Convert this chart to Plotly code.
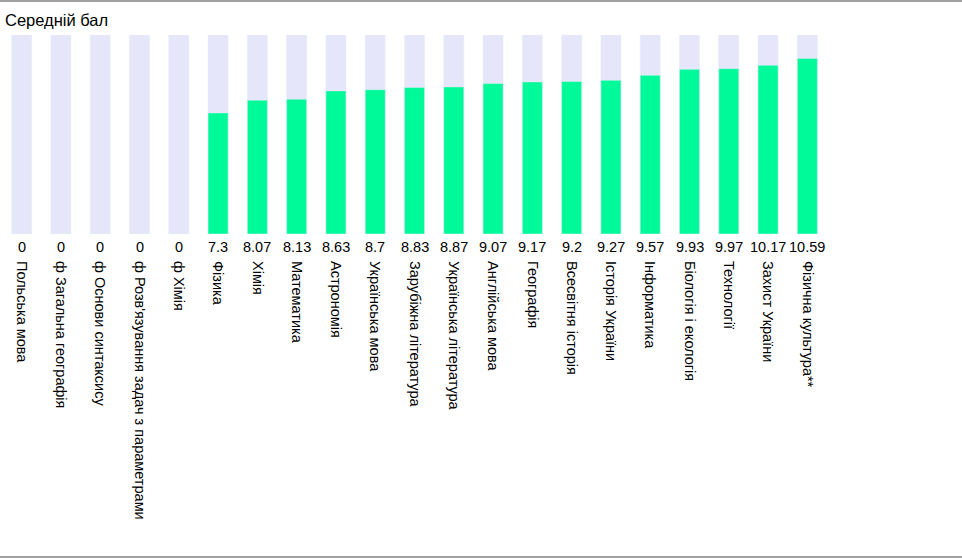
import plotly.graph_objects as go

categories = [
    "Польська мова", "ф Загальна географія", "ф Основи синтаксису",
    "ф Розв'язування задач з параметрами", "ф Хімія", "Фізика", "Хімія",
    "Математика", "Астрономія", "Українська мова", "Зарубіжна література",
    "Українська література", "Англійська мова", "Географія", "Всесвітня історія",
    "Історія України", "Інформатика", "Біологія і екологія", "Технології",
    "Захист України", "Фізична культура**",
]
values = [0, 0, 0, 0, 0, 7.3, 8.07, 8.13, 8.63, 8.7, 8.83, 8.87, 9.07, 9.17,
          9.2, 9.27, 9.57, 9.93, 9.97, 10.17, 10.59]
max_score = 12
title_text = "Середній бал"

W, H = 962, 560
slot = 39.3
left = 2
plot_w = slot * len(categories)
top, bottom = 35, 234
fs = 14.5

fig = go.Figure()
fig.add_trace(go.Bar(x=categories, y=[max_score] * len(categories),
                     marker_color="#E6E6FA", width=0.51, hoverinfo="skip"))
fig.add_trace(go.Bar(x=categories, y=values, marker_color="#00FA9A",
                     width=0.51))

for c, v in zip(categories, values):
    fig.add_annotation(x=c, y=0, text=f"{v:g}", showarrow=False,
                       yanchor="top", yshift=-3,
                       font=dict(family="Liberation Sans, Arial", size=fs, color="#000"))

fig.update_layout(
    width=W, height=H, autosize=False,
    margin=dict(l=left, r=W - left - plot_w, t=top, b=H - bottom, pad=0),
    barmode="overlay", showlegend=False,
    plot_bgcolor="white", paper_bgcolor="white",
    font=dict(family="Liberation Sans, Arial", size=fs, color="#000"),
    title=dict(text=title_text, x=5 / W, xanchor="left", y=1 - 20 / H,
               yanchor="middle", xref="container", yref="container",
               font=dict(size=16.5, color="#000")),
    xaxis=dict(type="category", tickangle=90, showgrid=False, zeroline=False,
               showline=False, ticks="", ticklabelstandoff=26,
               tickfont=dict(size=fs, color="#000"), range=[-0.5, len(categories) - 0.5]),
    yaxis=dict(range=[0, max_score], visible=False, fixedrange=True),
    shapes=[
        dict(type="line", xref="paper", yref="paper", x0=-1, x1=2,
             y0=1 + (top - 1) / (bottom - top), y1=1 + (top - 1) / (bottom - top),
             line=dict(color="#A0A0A0", width=2)),
        dict(type="line", xref="paper", yref="paper", x0=-1, x1=2,
             y0=-(557 - bottom) / (bottom - top), y1=-(557 - bottom) / (bottom - top),
             line=dict(color="#A0A0A0", width=2)),
    ],
)

fig.write_html("out.html", config={"displayModeBar": False},
               post_script="document.body.style.margin='0';document.body.style.overflow='hidden';")
